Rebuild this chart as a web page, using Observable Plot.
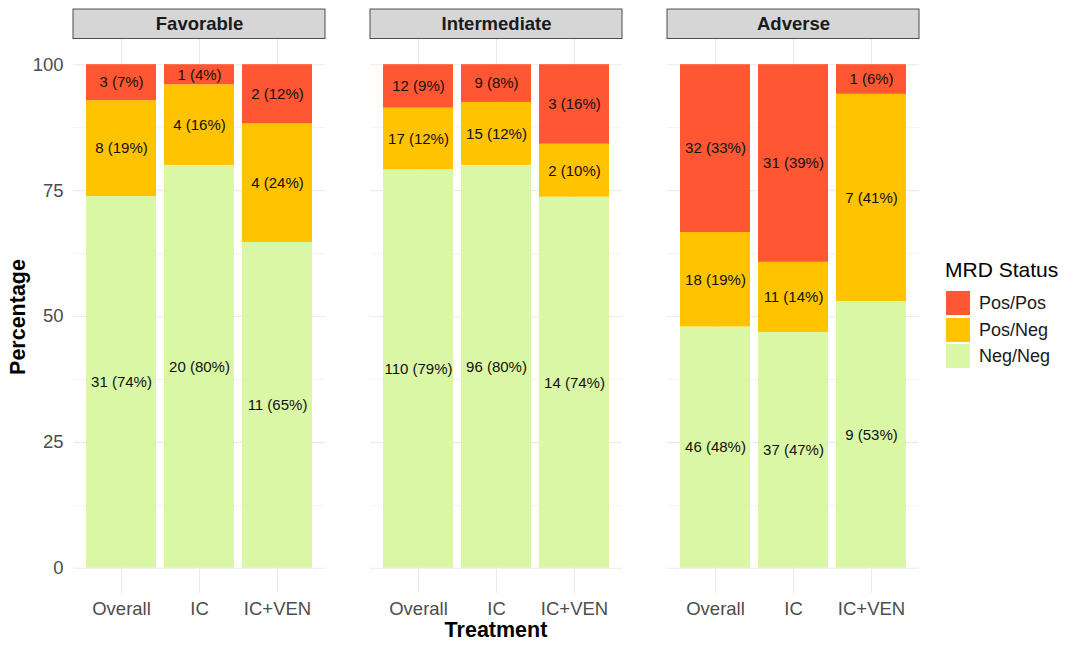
<!DOCTYPE html>
<html>
<head>
<meta charset="utf-8">
<script src="https://cdn.jsdelivr.net/npm/d3@7"></script>
<script src="https://cdn.jsdelivr.net/npm/@observablehq/plot@0.6"></script>
<style>
  html, body { margin: 0; padding: 0; background: #fff; }
  #wrap { position: relative; width: 1080px; height: 651px; font-family: "Liberation Sans", Arial, sans-serif; }
  #wrap svg { position: absolute; left: 0; top: 0; }
  .ov { position: absolute; white-space: nowrap; color: #000; }
</style>
</head>
<body>
<div id="wrap"></div>
<script>
const groups = ["Favorable", "Intermediate", "Adverse"];
const treatments = ["Overall", "IC", "IC+VEN"];
const statuses = ["Pos/Pos", "Pos/Neg", "Neg/Neg"];
const statusColors = ["#FF5733", "#FFC300", "#DAF7A6"];
const yTicks = [0, 25, 50, 75, 100];
const yMinorTicks = [12.5, 37.5, 62.5, 87.5];

// counts [group][treatment]
const negNegCounts = [[31, 20, 11], [110, 96, 14], [46, 37, 9]];
const posNegCounts = [[8, 4, 4], [17, 15, 2], [18, 11, 7]];
const posPosCounts = [[3, 1, 2], [12, 9, 3], [32, 31, 1]];
// printed percentages [group][treatment]
const negNegPct = [[74, 80, 65], [79, 80, 74], [48, 47, 53]];
const posNegPct = [[19, 16, 24], [12, 12, 10], [19, 14, 41]];
const posPosPct = [[7, 4, 12], [9, 8, 16], [33, 39, 6]];

const rows = [];
groups.forEach((g, gi) => {
  treatments.forEach((t, ti) => {
    const total = negNegCounts[gi][ti] + posNegCounts[gi][ti] + posPosCounts[gi][ti];
    const parts = [
      ["Neg/Neg", negNegCounts[gi][ti], negNegPct[gi][ti]],
      ["Pos/Neg", posNegCounts[gi][ti], posNegPct[gi][ti]],
      ["Pos/Pos", posPosCounts[gi][ti], posPosPct[gi][ti]]
    ];
    for (const [s, n, p] of parts) {
      rows.push({group: g, treatment: t, status: s, count: n,
                 value: n / total * 100, label: `${n} (${p}%)`});
    }
  });
});

const font = "'Liberation Sans', Arial, sans-serif";
const chart = Plot.plot({
  width: 1080,
  height: 651,
  marginLeft: 73,
  marginRight: 161,
  marginTop: 39,
  marginBottom: 58,
  style: {fontFamily: font, background: "transparent", overflow: "visible"},
  fx: {domain: groups, paddingInner: 45 / 297, paddingOuter: 0, axis: null, label: null},
  x: {domain: treatments, paddingInner: 0.1, paddingOuter: 0.15, align: 0.5, label: null},
  y: {domain: [-5, 105], label: null},
  color: {domain: statuses, range: statusColors},
  marks: [
    Plot.gridY(yMinorTicks, {stroke: "#ededed", strokeOpacity: 1, strokeWidth: 0.6}),
    Plot.gridY(yTicks, {stroke: "#ebebeb", strokeOpacity: 1, strokeWidth: 1.1}),
    Plot.gridX(treatments, {stroke: "#ebebeb", strokeOpacity: 1, strokeWidth: 1.1}),
    Plot.barY(rows, Plot.stackY({order: null, x: "treatment", fx: "group", y: "value", z: "status", fill: "status"})),
    Plot.text(rows, Plot.stackY({order: null, x: "treatment", fx: "group", y: "value", z: "status",
      text: "label", fill: "#111", fontSize: 15})),
    Plot.rect(groups, {fx: d => d, y1: 105.1, y2: 110.95, fill: "#d6d6d6", stroke: "#4d4d4d", strokeWidth: 1}),
    Plot.text(groups, {fx: d => d, y: 108.05, text: d => d, fontWeight: "bold", fontSize: 18.5, fill: "#1a1a1a"}),
    Plot.axisY(yTicks, {tickSize: 0, tickPadding: 10, fontSize: 18.5, fill: "#4d4d4d", label: null}),
    Plot.axisX({tickSize: 0, tickPadding: 8, fontSize: 18.5, fill: "#4d4d4d", label: null})
  ]
});

const wrap = document.getElementById("wrap");
wrap.appendChild(chart);

function addText(txt, css) {
  const d = document.createElement("div");
  d.className = "ov";
  d.textContent = txt;
  Object.assign(d.style, css);
  wrap.appendChild(d);
  return d;
}
// axis titles
addText("Percentage", {left: "18px", top: "317px", fontSize: "21.5px", fontWeight: "bold",
  transform: "translate(-50%, -50%) rotate(-90deg)"});
addText("Treatment", {left: "496px", top: "630px", fontSize: "21.5px", fontWeight: "bold",
  transform: "translate(-50%, -50%)"});

// legend
addText("MRD Status", {left: "945px", top: "270px", fontSize: "21px", transform: "translateY(-50%)"});
statuses.forEach((s, i) => {
  const top = 291 + i * 26.5;
  const key = document.createElement("div");
  Object.assign(key.style, {position: "absolute", left: "946px", top: top + "px", width: "24px", height: "24px",
    background: statusColors[i]});
  wrap.appendChild(key);
  addText(s, {left: "979px", top: (top + 12) + "px", fontSize: "18px", color: "#1a1a1a", transform: "translateY(-50%)"});
});
</script>
</body>
</html>
